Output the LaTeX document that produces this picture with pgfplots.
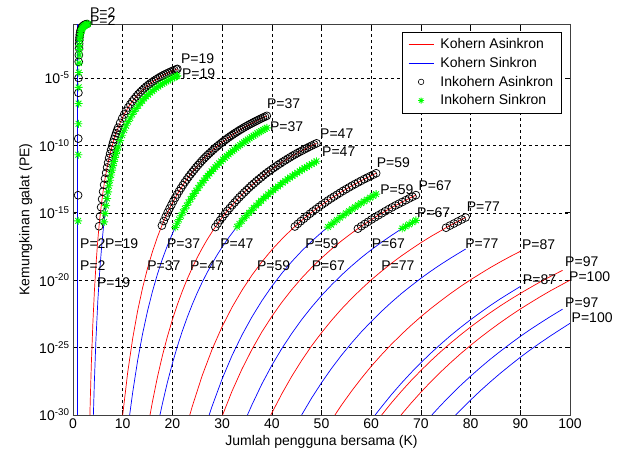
\documentclass[border=0pt]{standalone}
\usepackage{fontspec}
\setmainfont{Liberation Sans}
\usepackage{pgfplots}
\usepackage{pgfplotstable}
\pgfplotsset{compat=1.18}
\definecolor{mgreen}{RGB}{0,255,0}
\newcommand{\lf}{\fontsize{14}{16}\selectfont}

% MATLAB-like '*' marker (plus and cross together)
\pgfdeclareplotmark{mstar}{%
  \pgfpathmoveto{\pgfpoint{-\pgfplotmarksize}{0pt}}\pgfpathlineto{\pgfpoint{\pgfplotmarksize}{0pt}}%
  \pgfpathmoveto{\pgfpoint{0pt}{-\pgfplotmarksize}}\pgfpathlineto{\pgfpoint{0pt}{\pgfplotmarksize}}%
  \pgfpathmoveto{\pgfpoint{-0.707\pgfplotmarksize}{-0.707\pgfplotmarksize}}\pgfpathlineto{\pgfpoint{0.707\pgfplotmarksize}{0.707\pgfplotmarksize}}%
  \pgfpathmoveto{\pgfpoint{-0.707\pgfplotmarksize}{0.707\pgfplotmarksize}}\pgfpathlineto{\pgfpoint{0.707\pgfplotmarksize}{-0.707\pgfplotmarksize}}%
  \pgfusepathqstroke}

\pgfplotsset{
  kr/.style={red, line width=0.7pt, forget plot},
  kb/.style={blue, line width=0.7pt, forget plot},
  ic/.style={only marks, mark=o, mark size=3.9pt, black, line width=0.75pt, forget plot, restrict y to domain=-16.2:0},
  is/.style={only marks, mark=mstar, mark size=4pt, mgreen, line width=0.9pt, forget plot, restrict y to domain=-16.2:0},
}
\tikzset{lab/.style={anchor=west, inner sep=1pt, font=\lf}}

% y values are the exponents of PE (log10)
% P = 2
\pgfplotstableread{
K e
1.03 -13.7
1.06 -9.5
1.09 -6.1
1.12 -5.0
1.15 -3.8
1.18 -3.3
1.21 -2.8
1.24 -2.45
1.27 -2.2
1.30 -2.0
1.36 -1.8
1.42 -1.65
1.52 -1.5
1.61 -1.4
1.73 -1.3
1.85 -1.22
2.00 -1.15
2.21 -1.09
2.39 -1.05
2.61 -1.02
2.82 -1.0
}\cP
\pgfplotstableread{
K e
1.03 -15.6
1.06 -10.7
1.09 -8.4
1.12 -6.9
1.15 -5.7
1.18 -4.6
1.21 -3.9
1.24 -3.3
1.27 -2.9
1.30 -2.6
1.36 -2.2
1.42 -1.95
1.52 -1.7
1.61 -1.55
1.73 -1.42
1.85 -1.32
2.00 -1.24
2.21 -1.16
2.39 -1.1
2.61 -1.05
2.82 -1.02
3.00 -1.0
}\sP
% P = 19
\pgfplotstableread{
K e
3.40 -30
3.50 -28.58
3.70 -26.12
4.00 -23.18
4.30 -20.86
4.60 -18.99
4.90 -17.45
5.04 -16.83
5.24 -16.00
5.44 -15.26
5.65 -14.59
5.85 -13.99
6.05 -13.43
6.25 -12.93
6.45 -12.47
6.66 -12.04
6.86 -11.64
7.06 -11.28
7.26 -10.94
7.46 -10.62
7.67 -10.32
7.87 -10.05
8.07 -9.78
8.27 -9.54
8.48 -9.31
8.68 -9.09
8.88 -8.88
9.08 -8.69
9.48 -8.33
9.89 -8.00
10.29 -7.71
10.70 -7.44
11.10 -7.19
11.51 -6.96
11.91 -6.75
12.31 -6.56
12.72 -6.38
13.12 -6.21
13.53 -6.05
13.93 -5.91
14.33 -5.77
14.74 -5.64
15.14 -5.52
15.55 -5.41
15.95 -5.30
16.35 -5.20
16.76 -5.10
17.16 -5.01
17.57 -4.92
17.97 -4.84
18.37 -4.76
18.78 -4.69
19.18 -4.62
19.59 -4.55
19.99 -4.48
20.39 -4.42
20.80 -4.36
21.00 -4.33
}\rA
\pgfplotstableread{
K e
4.10 -30
4.30 -27.54
4.60 -24.56
5.00 -21.51
5.40 -19.18
5.80 -17.35
6.05 -16.38
6.25 -15.68
6.45 -15.05
6.66 -14.47
6.86 -13.94
7.06 -13.45
7.26 -13.00
7.46 -12.59
7.67 -12.20
7.87 -11.84
8.07 -11.50
8.27 -11.19
8.48 -10.89
8.68 -10.61
8.88 -10.35
9.08 -10.11
9.48 -9.65
9.89 -9.25
10.29 -8.88
10.70 -8.55
11.10 -8.24
11.51 -7.97
11.91 -7.71
12.31 -7.48
12.72 -7.26
13.12 -7.06
13.53 -6.87
13.93 -6.70
14.33 -6.53
14.74 -6.38
15.14 -6.24
15.55 -6.10
15.95 -5.98
16.35 -5.86
16.76 -5.74
17.16 -5.64
17.57 -5.53
17.97 -5.44
18.37 -5.35
18.78 -5.26
19.18 -5.18
19.59 -5.10
19.99 -5.02
20.39 -4.95
20.80 -4.88
21.00 -4.85
}\bA
% P = 37
\pgfplotstableread{
K e
10.00 -30
11.00 -26.86
12.00 -24.34
13.00 -22.28
14.00 -20.57
15.00 -19.11
16.00 -17.87
17.00 -16.79
17.51 -16.30
17.89 -15.95
18.27 -15.61
18.66 -15.29
19.04 -14.98
19.42 -14.69
19.81 -14.41
20.19 -14.14
20.58 -13.88
20.96 -13.64
21.34 -13.40
21.73 -13.17
22.11 -12.95
22.49 -12.74
22.88 -12.54
23.26 -12.34
23.65 -12.15
24.03 -11.97
24.41 -11.80
24.80 -11.62
25.18 -11.46
25.57 -11.30
25.95 -11.14
26.33 -10.99
26.72 -10.85
27.10 -10.71
27.48 -10.58
27.87 -10.45
28.25 -10.32
28.64 -10.19
29.02 -10.07
29.40 -9.96
29.79 -9.84
30.17 -9.73
30.56 -9.62
30.94 -9.52
31.32 -9.41
31.71 -9.31
32.09 -9.22
32.47 -9.12
32.86 -9.03
33.24 -8.94
33.63 -8.85
34.01 -8.77
34.39 -8.68
34.78 -8.60
35.16 -8.52
35.55 -8.44
35.93 -8.37
36.31 -8.29
36.70 -8.22
37.08 -8.15
37.46 -8.08
37.85 -8.01
38.23 -7.94
38.62 -7.88
39.00 -7.81
}\rB
\pgfplotstableread{
K e
11.40 -30
12.00 -28.35
13.00 -25.97
14.00 -23.98
15.00 -22.28
16.00 -20.82
17.00 -19.54
18.00 -18.42
19.00 -17.43
20.00 -16.55
20.19 -16.39
20.58 -16.08
20.96 -15.78
21.34 -15.50
21.73 -15.22
22.11 -14.96
22.49 -14.71
22.88 -14.46
23.26 -14.22
23.65 -14.00
24.03 -13.78
24.41 -13.56
24.80 -13.36
25.18 -13.16
25.57 -12.96
25.95 -12.78
26.33 -12.60
26.72 -12.42
27.10 -12.25
27.48 -12.09
27.87 -11.93
28.25 -11.77
28.64 -11.62
29.02 -11.47
29.40 -11.33
29.79 -11.19
30.17 -11.05
30.56 -10.92
30.94 -10.79
31.32 -10.67
31.71 -10.54
32.09 -10.43
32.47 -10.31
32.86 -10.20
33.24 -10.09
33.63 -9.98
34.01 -9.87
34.39 -9.77
34.78 -9.67
35.16 -9.57
35.55 -9.48
35.93 -9.38
36.31 -9.29
36.70 -9.20
37.08 -9.11
37.46 -9.03
37.85 -8.94
38.23 -8.86
38.62 -8.78
39.00 -8.70
}\bB
% P = 47
\pgfplotstableread{
K e
15.50 -30
16.00 -28.99
17.00 -27.17
18.00 -25.58
19.00 -24.18
20.00 -22.93
21.00 -21.81
22.00 -20.81
23.00 -19.90
24.00 -19.08
25.00 -18.32
26.00 -17.63
27.00 -16.99
28.15 -16.32
28.64 -16.06
29.12 -15.80
29.61 -15.55
30.09 -15.31
30.58 -15.08
31.06 -14.86
31.55 -14.65
32.03 -14.44
32.52 -14.24
33.00 -14.04
33.48 -13.85
33.97 -13.67
34.45 -13.49
34.94 -13.32
35.42 -13.15
35.91 -12.98
36.39 -12.83
36.88 -12.67
37.36 -12.52
37.85 -12.38
38.33 -12.23
38.82 -12.09
39.30 -11.96
39.79 -11.83
40.27 -11.70
40.76 -11.58
41.24 -11.45
41.73 -11.34
42.21 -11.22
42.70 -11.11
43.18 -11.00
43.67 -10.89
44.15 -10.78
44.64 -10.68
45.12 -10.58
45.61 -10.48
46.09 -10.39
46.58 -10.29
47.06 -10.20
47.55 -10.11
48.03 -10.02
48.52 -9.93
49.00 -9.85
}\rC
\pgfplotstableread{
K e
17.50 -30
18.00 -29.14
19.00 -27.57
20.00 -26.17
21.00 -24.91
22.00 -23.77
23.00 -22.74
24.00 -21.80
25.00 -20.94
26.00 -20.15
27.00 -19.43
28.00 -18.76
29.00 -18.13
30.00 -17.55
31.00 -17.01
32.00 -16.51
32.52 -16.26
33.00 -16.04
33.48 -15.82
33.97 -15.61
34.45 -15.40
34.94 -15.20
35.42 -15.01
35.91 -14.82
36.39 -14.63
36.88 -14.46
37.36 -14.28
37.85 -14.11
38.33 -13.95
38.82 -13.79
39.30 -13.63
39.79 -13.48
40.27 -13.33
40.76 -13.19
41.24 -13.05
41.73 -12.91
42.21 -12.77
42.70 -12.64
43.18 -12.51
43.67 -12.39
44.15 -12.27
44.64 -12.15
45.12 -12.03
45.61 -11.92
46.09 -11.80
46.58 -11.69
47.06 -11.59
47.55 -11.48
48.03 -11.38
48.52 -11.28
49.00 -11.18
}\bC
% P = 59
\pgfplotstableread{
K e
23.50 -30
24.00 -29.36
26.00 -27.07
28.00 -25.12
30.00 -23.45
32.00 -22.01
34.00 -20.75
36.00 -19.63
38.00 -18.64
40.00 -17.75
42.00 -16.96
44.03 -16.22
44.64 -16.02
45.24 -15.82
45.85 -15.62
46.45 -15.44
47.06 -15.25
47.67 -15.07
48.27 -14.90
48.88 -14.73
49.48 -14.56
50.09 -14.40
50.70 -14.25
51.30 -14.09
51.91 -13.94
52.52 -13.80
53.12 -13.66
53.73 -13.52
54.33 -13.38
54.94 -13.25
55.55 -13.12
56.15 -12.99
56.76 -12.87
57.36 -12.75
57.97 -12.63
58.58 -12.51
59.18 -12.40
59.79 -12.29
60.39 -12.18
61.00 -12.07
}\rD
\pgfplotstableread{
K e
27.40 -30
28.00 -29.34
30.00 -27.33
32.00 -25.59
34.00 -24.07
36.00 -22.73
38.00 -21.53
40.00 -20.46
42.00 -19.50
44.00 -18.63
46.00 -17.84
48.00 -17.12
50.00 -16.46
50.70 -16.24
51.30 -16.06
51.91 -15.88
52.52 -15.70
53.12 -15.53
53.73 -15.36
54.33 -15.20
54.94 -15.04
55.55 -14.88
56.15 -14.73
56.76 -14.58
57.36 -14.43
57.97 -14.29
58.58 -14.15
59.18 -14.02
59.79 -13.88
60.39 -13.75
61.00 -13.62
}\bD
% P = 67
\pgfplotstableread{
K e
30.10 -30
32.00 -28.23
34.00 -26.59
36.00 -25.14
38.00 -23.84
40.00 -22.69
42.00 -21.65
44.00 -20.71
46.00 -19.85
48.00 -19.07
50.00 -18.36
52.00 -17.70
54.00 -17.09
56.00 -16.53
56.64 -16.36
57.32 -16.18
58.01 -16.00
58.70 -15.83
59.38 -15.67
60.07 -15.50
60.76 -15.34
61.44 -15.19
62.13 -15.04
62.82 -14.89
63.51 -14.74
64.19 -14.60
64.88 -14.46
65.57 -14.33
66.25 -14.20
66.94 -14.07
67.63 -13.94
68.31 -13.81
69.00 -13.69
}\rE
\pgfplotstableread{
K e
35.10 -30
36.00 -29.25
38.00 -27.70
40.00 -26.32
42.00 -25.08
44.00 -23.96
46.00 -22.93
48.00 -22.00
50.00 -21.14
52.00 -20.36
54.00 -19.63
56.00 -18.96
58.00 -18.33
60.00 -17.75
62.00 -17.21
64.00 -16.70
65.57 -16.32
66.25 -16.16
66.94 -16.01
67.63 -15.86
68.31 -15.71
69.00 -15.56
}\bE
% P = 77
\pgfplotstableread{
K e
39.80 -30
42.00 -28.44
44.00 -27.14
46.00 -25.96
48.00 -24.88
50.00 -23.90
52.00 -22.99
54.00 -22.15
56.00 -21.38
58.00 -20.66
60.00 -19.98
62.00 -19.36
64.00 -18.77
66.00 -18.22
68.00 -17.71
70.00 -17.22
72.00 -16.76
74.27 -16.28
75.06 -16.11
75.85 -15.95
76.64 -15.80
77.42 -15.65
78.21 -15.50
79.00 -15.35
}\rF
\pgfplotstableread{
K e
46.00 -30
48.00 -28.75
50.00 -27.61
52.00 -26.55
54.00 -25.58
56.00 -24.68
58.00 -23.84
60.00 -23.07
62.00 -22.34
64.00 -21.66
66.00 -21.02
68.00 -20.43
70.00 -19.86
72.00 -19.33
74.00 -18.83
76.00 -18.36
78.00 -17.91
79.00 -17.69
}\bF
% P = 87
\pgfplotstableread{
K e
52.70 -30
54 -29.28
56 -28.25
58 -27.29
60 -26.39
62 -25.56
64 -24.78
66 -24.05
68 -23.36
70 -22.71
72 -22.10
74 -21.53
76 -20.98
78 -20.46
80 -19.97
82 -19.51
84 -19.06
86 -18.64
88 -18.24
90 -17.86
}\rG
\pgfplotstableread{
K e
60.80 -30
62 -29.43
64 -28.52
66 -27.67
68 -26.87
70 -26.12
72 -25.41
74 -24.74
76 -24.10
78 -23.50
80 -22.93
82 -22.39
84 -21.87
86 -21.38
88 -20.92
90 -20.47
}\bG
% P = 97
\pgfplotstableread{
K e
62.10 -30
64 -29.13
66 -28.27
68 -27.46
70 -26.70
72 -25.98
74 -25.30
76 -24.66
78 -24.05
80 -23.47
82 -22.92
84 -22.40
86 -21.90
88 -21.43
90 -20.98
92 -20.55
94 -20.13
96 -19.74
98.5 -19.27
}\rH
\pgfplotstableread{
K e
72.20 -30
74 -29.28
76 -28.52
78 -27.80
80 -27.12
82 -26.47
84 -25.85
86 -25.27
88 -24.71
90 -24.17
92 -23.66
94 -23.18
96 -22.71
98.5 -22.15
}\bH
% P = 100
\pgfplotstableread{
K e
66.00 -30
68 -29.13
70 -28.31
72 -27.53
74 -26.80
76 -26.11
78 -25.45
80 -24.83
82 -24.24
84 -23.68
86 -23.14
88 -22.63
90 -22.14
92 -21.68
94 -21.23
96 -20.80
98 -20.40
100 -20.00
}\rI
\pgfplotstableread{
K e
77.00 -30
78 -29.62
80 -28.89
82 -28.19
84 -27.53
86 -26.90
88 -26.30
90 -25.72
92 -25.17
94 -24.65
96 -24.15
98 -23.67
100 -23.20
}\bI

\begin{document}
\begin{tikzpicture}
\begin{axis}[
    scale only axis,
    width=497pt,
    height=391pt,
    xmin=0, xmax=100,
    ymin=-30, ymax=-1,
    clip=false,
    xtick={0,10,...,100},
    ytick={-30,-25,...,-5},
    yticklabels={10\textsuperscript{-30},10\textsuperscript{-25},10\textsuperscript{-20},10\textsuperscript{-15},10\textsuperscript{-10},10\textsuperscript{-5}},
    /pgf/number format/assume math mode=true,
    tick label style={font=\lf},
    label style={font=\lf},
    xlabel={Jumlah pengguna bersama (K)},
    ylabel={Kemungkinan galat (PE)},
    grid=major,
    grid style={black, line width=0.5pt, dash pattern=on 3pt off 3pt},
    axis line style={black!75, line width=0.9pt},
    tick align=inside,
    major tick length=5pt,
    tick style={black, line width=0.6pt},
    legend style={at={(0.982,0.9795)}, anchor=north east, font=\lf, line width=0.5pt, fill=white,
        inner xsep=6pt, inner ysep=5pt, row sep=4pt, nodes={inner sep=1.5pt},
        /tikz/every odd column/.append style={column sep=5pt}},
    legend cell align=left,
    legend image code/.code={\draw[mark repeat=2,mark phase=2,#1] plot coordinates {(0pt,0pt) (12.5pt,0pt) (25pt,0pt)};},
]
\coordinate (sw) at (rel axis cs:0,0);
\coordinate (ne) at (rel axis cs:1,1);

% P = 2
\addplot[kr] coordinates {(0.9,-30) (0.9,-1)};
\addplot[kb] coordinates {(0.9,-30) (0.9,-1)};
\addplot[ic] table {\cP};
\addplot[is] table {\sP};
% P = 19
\addplot[kr] table {\rA};
\addplot[kb] table {\bA};
\addplot[ic] table {\rA};
\addplot[is] table {\bA};
% P = 37
\addplot[kr] table {\rB};
\addplot[kb] table {\bB};
\addplot[ic] table {\rB};
\addplot[is] table {\bB};
% P = 47
\addplot[kr] table {\rC};
\addplot[kb] table {\bC};
\addplot[ic] table {\rC};
\addplot[is] table {\bC};
% P = 59
\addplot[kr] table {\rD};
\addplot[kb] table {\bD};
\addplot[ic] table {\rD};
\addplot[is] table {\bD};
% P = 67
\addplot[kr] table {\rE};
\addplot[kb] table {\bE};
\addplot[ic] table {\rE};
\addplot[is] table {\bE};
% P = 77
\addplot[kr] table {\rF};
\addplot[kb] table {\bF};
\addplot[ic] table {\rF};
% P = 87, 97, 100
\addplot[kr] table {\rG};
\addplot[kb] table {\bG};
\addplot[kr] table {\rH};
\addplot[kb] table {\bH};
\addplot[kr] table {\rI};
\addplot[kb] table {\bI};

% labels
\node[lab] at (axis cs:3.2,-0.12) {P=2};
\node[lab] at (axis cs:3.2,-0.74) {P=2};
\node[lab] at (axis cs:21.5,-3.60) {P=19};
\node[lab] at (axis cs:21.7,-4.71) {P=19};
\node[lab] at (axis cs:38.8,-6.91) {P=37};
\node[lab] at (axis cs:39.4,-8.58) {P=37};
\node[lab] at (axis cs:49.5,-9.17) {P=47};
\node[lab] at (axis cs:49.9,-10.44) {P=47};
\node[lab] at (axis cs:60.9,-11.29) {P=59};
\node[lab] at (axis cs:61.6,-13.26) {P=59};
\node[lab] at (axis cs:69.3,-12.96) {P=67};
\node[lab] at (axis cs:69.0,-15.0) {P=67};
\node[lab] at (axis cs:79.0,-14.52) {P=77};
\node[lab] at (axis cs:1.2,-17.31) {P=2};
\node[lab] at (axis cs:6.2,-17.31) {P=19};
\node[lab] at (axis cs:18.7,-17.31) {P=37};
\node[lab] at (axis cs:29.4,-17.31) {P=47};
\node[lab] at (axis cs:46.5,-17.31) {P=59};
\node[lab] at (axis cs:59.9,-17.31) {P=67};
\node[lab] at (axis cs:78.7,-17.31) {P=77};
\node[lab] at (axis cs:1.2,-18.90) {P=2};
\node[lab] at (axis cs:14.7,-18.90) {P=37};
\node[lab] at (axis cs:23.3,-18.90) {P=47};
\node[lab] at (axis cs:36.8,-18.90) {P=59};
\node[lab] at (axis cs:47.8,-18.90) {P=67};
\node[lab] at (axis cs:61.8,-18.90) {P=77};
\node[lab] at (axis cs:4.6,-20.17) {P=19};
\node[lab] at (axis cs:90.1,-17.34) {P=87};
\node[lab] at (axis cs:90.3,-19.94) {P=87};
\node[lab] at (axis cs:98.8,-18.64) {P=97};
\node[lab] at (axis cs:98.8,-21.69) {P=97};
\node[lab] at (axis cs:99.6,-19.76) {P=100};
\node[lab] at (axis cs:100.1,-22.80) {P=100};

% legend
\addlegendimage{draw=red, line width=0.7pt}
\addlegendentry{Kohern Asinkron}
\addlegendimage{draw=blue, line width=0.7pt}
\addlegendentry{Kohern Sinkron}
\addlegendimage{only marks, mark=o, mark size=2.8pt, draw=black, line width=0.6pt}
\addlegendentry{Inkohern Asinkron}
\addlegendimage{only marks, mark=mstar, mark size=3pt, draw=mgreen, line width=0.8pt}
\addlegendentry{Inkohern Sinkron}
\end{axis}
\path ([shift={(-73pt,-43pt)}]sw) rectangle ([shift={(53pt,24pt)}]ne);
\end{tikzpicture}
\end{document}
